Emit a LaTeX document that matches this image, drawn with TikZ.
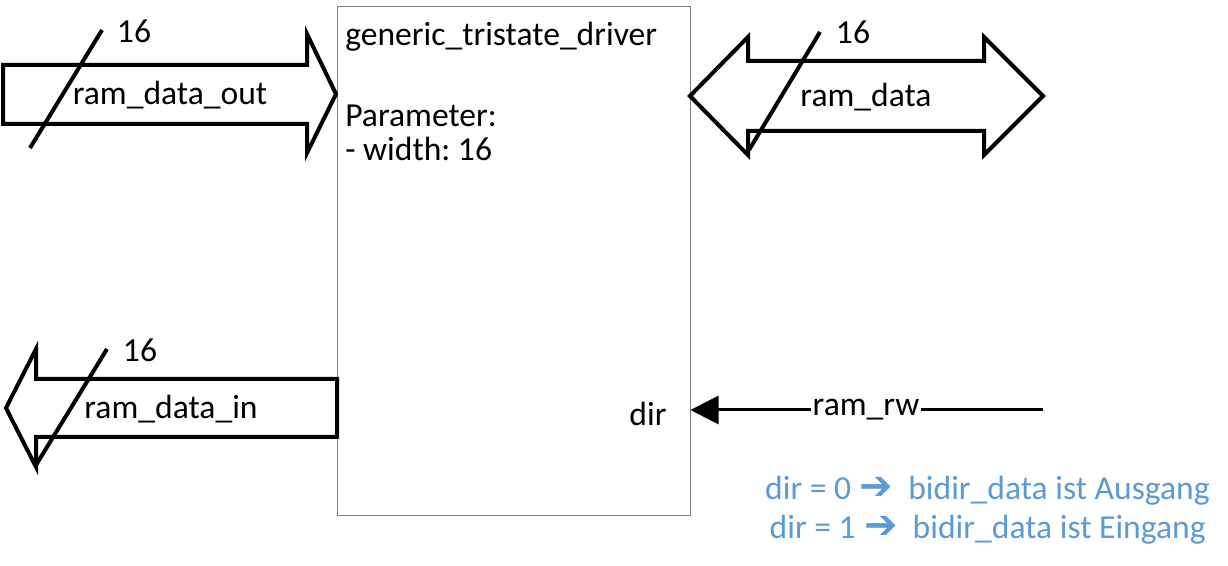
\documentclass[tikz,border=0pt]{standalone}
\usepackage{fontspec}
\setmainfont{Carlito}
\newfontfamily\symfont{DejaVu Sans}
\usetikzlibrary{arrows.meta}
\definecolor{noteblue}{HTML}{5B9BD5}
\definecolor{boxgray}{HTML}{808080}
\frenchspacing
\newcommand{\hvarrow}{\hspace{0.25em}{\symfont\bfseries\fontsize{30}{30}\selectfont ➔}\hspace{0.45em}}
\begin{document}
\begin{tikzpicture}[x=0.75pt,y=-0.75pt,
  bus/.style={line width=3pt,line join=miter,fill=white},
  slash/.style={line width=3pt},
  lbl/.style={font=\fontsize{25.2}{30}\selectfont,inner sep=0pt},
  note/.style={font=\fontsize{25.2}{30}\selectfont,text=noteblue,inner sep=0pt}]
\useasboundingbox (0,0) rectangle (1228,566);
% main block
\node (drv) [draw=boxgray,line width=0.75pt,minimum width=264.75pt,minimum height=381pt,inner sep=0pt] at (513.5,261) {};
\node (title) [lbl,anchor=west] at (345,37) {generic\_tristate\_driver};
\node (par) [lbl,anchor=west] at (345,116) {Parameter:};
\node (wid) [lbl,anchor=west] at (345,149) {- width: 16};
% ram_data_out
\draw[bus] (3,65) -- (307,65) -- (307,34) -- (336,94) -- (307,153) -- (307,124) -- (3,124) -- cycle;
\draw[slash] (30,148) -- (102,30);
\node (n1) [lbl] at (134,31) {16};
\node (rdo) [lbl] at (170,95) {ram\_data\_out};
% ram_data
\draw[bus] (690,96) -- (748,37) -- (748,61) -- (984,61) -- (984,37) -- (1043,96) -- (984,155) -- (984,131) -- (748,131) -- (748,155) -- cycle;
\draw[slash] (749,150) -- (820,32);
\node (n2) [lbl] at (853,32) {16};
\node (rd) [lbl] at (866,97) {ram\_data};
% ram_data_in
\draw[bus] (337,379) -- (36,379) -- (36,349) -- (6,408) -- (36,467) -- (36,437) -- (337,437) -- cycle;
\draw[slash] (36,465) -- (107,349);
\node (n3) [lbl] at (140,350) {16};
\node (rdi) [lbl] at (171,409) {ram\_data\_in};
% dir / ram_rw
\node (dir) [lbl] at (648,414) {dir};
\coordinate (rwend) at (1043,410);
\draw[line width=2.25pt,-{Triangle[length=21pt,width=21pt]}] (rwend) -- (drv.east |- rwend);
\node (rw) [lbl,fill=white,inner xsep=1pt,inner ysep=3pt] at (866,410) {ram\_rw};
% notes
\node (note1) [note,anchor=east] at (1210,491) {dir = 0\hvarrow bidir\_data ist Ausgang};
\node (note2) [note,anchor=east] at (1206,530) {dir = 1\hvarrow bidir\_data ist Eingang};
\end{tikzpicture}
\end{document}
